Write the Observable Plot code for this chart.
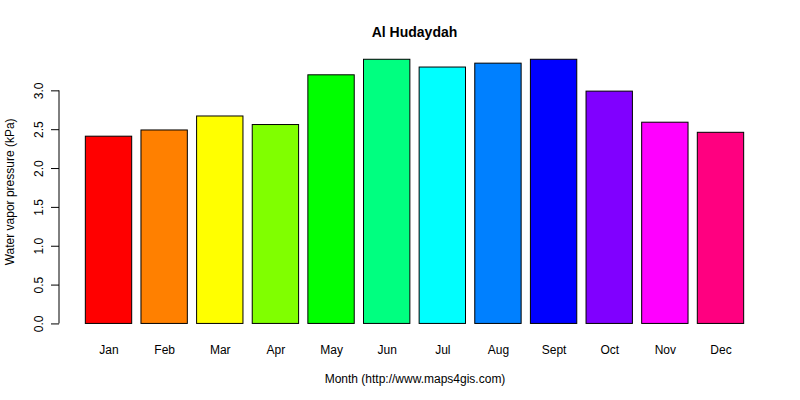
<!DOCTYPE html>
<html>
<head>
<meta charset="utf-8">
<script src="https://cdn.jsdelivr.net/npm/d3@7"></script>
<script src="https://cdn.jsdelivr.net/npm/@observablehq/plot@0.6"></script>
<style>
  html, body { margin: 0; padding: 0; background: #fff; }
  #title {
    width: 771px; height: 21px; padding-top: 24px; padding-left: 29px;
    line-height: 14px; text-align: center;
    font: bold 14px "Liberation Sans", Arial, sans-serif; color: #000;
  }
</style>
</head>
<body>
<div id="title">Al Hudaydah</div>
<div id="chart"></div>
<script>
const months = ["Jan", "Feb", "Mar", "Apr", "May", "Jun", "Jul", "Aug", "Sept", "Oct", "Nov", "Dec"];
const vapor = [2.41, 2.49, 2.67, 2.56, 3.20, 3.40, 3.30, 3.35, 3.40, 2.99, 2.59, 2.46];
const colors = ["#FF0000", "#FF8000", "#FFFF00", "#80FF00", "#00FF00", "#00FF80",
                "#00FFFF", "#0080FF", "#0000FF", "#8000FF", "#FF00FF", "#FF0080"];
const yTicks = [0, 0.5, 1, 1.5, 2, 2.5, 3];
const xLabel = "Month (http://www.maps4gis.com)";
const yLabel = "Water vapor pressure (kPa)";

const data = months.map((m, i) => ({month: m, value: vapor[i], color: colors[i]}));
const ymax = d3.max(vapor);

const chart = Plot.plot({
  width: 800,
  height: 355,
  marginLeft: 59,
  marginRight: 30,
  marginTop: 3.7,
  marginBottom: 66,
  style: {fontFamily: "'Liberation Sans', Arial, sans-serif", fontSize: "12px", color: "#000", background: "#fff"},
  x: {type: "band", domain: months, paddingInner: 1 / 6, paddingOuter: 0.4733, align: 0.5, round: false},
  y: {domain: [-0.04 * ymax, 1.04 * ymax]},
  color: {type: "identity"},
  marks: [
    Plot.barY(data, {x: "month", y: "value", fill: "color", stroke: "#000", strokeWidth: 1}),
    Plot.axisX({tickSize: 0, tickPadding: 11, fontSize: 12, label: null}),
    Plot.axisY({ticks: yTicks, tickFormat: d3.format(".1f"), tickSize: 8, tickPadding: 8.7,
                tickRotate: -90, textAnchor: "middle", lineAnchor: "bottom", fontSize: 12, label: null}),
    Plot.text([xLabel], {text: d => d, frameAnchor: "bottom", lineAnchor: "bottom", dy: 48.3, fontSize: 12}),
    Plot.text([yLabel], {text: d => d, frameAnchor: "left", rotate: -90, textAnchor: "middle",
                         lineAnchor: "bottom", dx: -45.7, fontSize: 12})
  ]
});

// y axis line spanning the tick range, positioned with Plot's own y scale
const ys = chart.scale("y");
const yScale = d3.scaleLinear(ys.domain, ys.range);
d3.select(chart).append("line")
  .attr("x1", 59).attr("x2", 59)
  .attr("y1", yScale(yTicks[0])).attr("y2", yScale(yTicks[yTicks.length - 1]))
  .attr("stroke", "#000").attr("stroke-width", 1);

document.getElementById("chart").appendChild(chart);
</script>
</body>
</html>
